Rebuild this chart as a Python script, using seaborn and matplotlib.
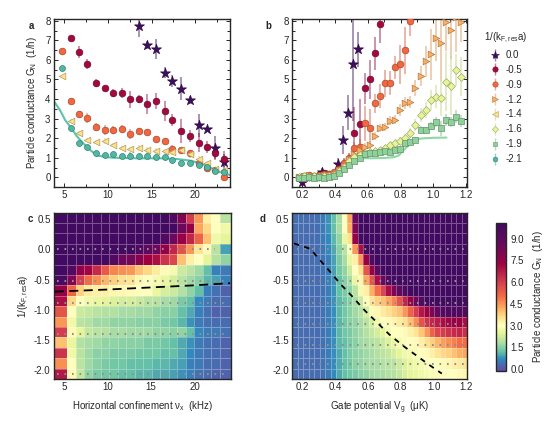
import numpy as np
import seaborn as sns
import matplotlib.pyplot as plt
import matplotlib.colors as mcolors
from matplotlib.lines import Line2D
from matplotlib.ticker import MultipleLocator, FormatStrFormatter

sns.set_style('ticks')
plt.rcParams['font.family'] = ['Liberation Sans', 'DejaVu Sans']
plt.rcParams['mathtext.default'] = 'regular'
FS = 7
plt.rcParams['font.size'] = FS

# ---------------- panel a data (x: horizontal confinement, kHz) ----------------
A_X = [4.7, 5.7, 6.7, 7.6, 8.6, 9.6, 10.6, 11.6, 12.5, 13.5,
       14.5, 15.5, 16.5, 17.4, 18.4, 19.4, 20.4, 21.4, 22.3, 23.3]
A_STAR_Y = [7.75, 6.78, 6.57, 5.35, 4.92, 4.53, 3.97, 2.66, 2.49, 1.52, 0.78]      # from index 9
A_STAR_E = [0.6, 0.2, 0.5, 0.3, 0.3, 0.6, 0.2, 0.6, 0.1, 0.6, 0.4]
A_RED_Y = [7.13, 6.42, 5.79, 4.8, 4.54, 4.3, 4.32, 3.98, 4.0, 3.76, 3.91, 3.4, 2.93,
           2.37, 2.11, 1.77, 1.53, 1.26, 0.92]                                     # from index 1
A_RED_E = [0.1, 0.3, 0.25, 0.2, 0.15, 0.2, 0.25, 0.45, 0.2, 0.5, 0.4, 0.5, 0.3, 0.6,
           0.3, 0.5, 0.3, 0.4, 0.4]
A_ORA_Y = [6.47, 3.9, 3.22, 3.05, 2.59, 2.43, 2.42, 2.49, 2.21, 2.38, 2.3, 1.96, 1.85,
           1.47, 1.41, 1.22, 0.71, 0.48, 0.36, 0.03]
A_ORA_E = [0.1, 0.1, 0.15, 0.25, 0.2, 0.25, 0.2, 0.2, 0.25, 0.15, 0.15, 0.1, 0.1, 0.2,
           0.1, 0.15, 0.15, 0.1, 0.1, 0.1]
A_TRI_Y = [5.18, 2.88, 2.24, 1.9, 1.82, 1.85, 1.64, 1.49, 1.45, 1.5, 1.4, 1.36, 1.32,
           1.3, 1.4, 1.2, 0.95, 0.74, 0.44, 0.37]
A_TRI_E = [0.05, 0.1, 0.15, 0.1, 0.1, 0.15, 0.1, 0.1, 0.1, 0.15, 0.15, 0.15, 0.15,
           0.15, 0.1, 0.2, 0.15, 0.1, 0.1, 0.1]
A_TEAL_Y = [5.57, 2.53, 1.74, 1.57, 1.26, 1.14, 1.19, 1.09, 1.09, 1.07, 1.11, 1.06,
            1.06, 0.89, 0.71, 0.75, 0.61, 0.54, 0.31, 0.29]
A_TEAL_E = [0.05, 0.08, 0.1, 0.1, 0.08, 0.08, 0.1, 0.1, 0.2, 0.1, 0.15, 0.1, 0.1, 0.15,
            0.1, 0.1, 0.1, 0.15, 0.15, 0.1]
A_THEORY_X = [3.9, 4.5, 5.1, 5.7, 6.4, 7.2, 8.0, 8.7, 9.7, 10.6, 13.4, 16.0, 18.0,
              19.5, 20.5, 21.4, 22.6, 24.1]
A_THEORY_Y = [3.82, 3.42, 2.91, 2.57, 2.11, 1.72, 1.38, 1.12, 1.04, 1.0, 0.97, 0.97,
              0.93, 0.85, 0.72, 0.58, 0.3, 0.1]

# ---------------- panel b data (x: gate potential, uK) ----------------
B_X = [0.178, 0.209, 0.24, 0.271, 0.302, 0.333, 0.364, 0.395, 0.426, 0.457, 0.488,
       0.519, 0.55, 0.581, 0.612, 0.643, 0.674, 0.705, 0.736, 0.767, 0.798, 0.829,
       0.86, 0.891, 0.922, 0.953, 0.984, 1.015, 1.046, 1.077, 1.108, 1.139, 1.17]
B_STAR_X = [0.2, 0.32, 0.42, 0.448, 0.478, 0.512, 0.543]
B_STAR_Y = [-0.22, 0.28, 0.67, 1.9, 3.3, 5.77, 6.55]
B_STAR_E = [0.15, 0.2, 0.3, 0.7, 0.9, 2.9, 0.9]
B_RED_Y = [-0.05, -0.1, 0.0, 0.05, 0.1, 0.2, 0.15, 0.2, 0.5, 0.7, 0.93, 2.27, 2.72,
           4.54, 5.0, 6.33, 7.85]
B_RED_E = [0.1, 0.15, 0.1, 0.1, 0.1, 0.15, 0.1, 0.15, 0.2, 0.3, 0.3, 1.3, 1.3, 0.8,
           1.0, 0.85, 1.0]
B_ORA_Y = [0.0, 0.05, 0.1, 0.05, 0.1, 0.15, 0.15, 0.25, 0.45, 0.75, 0.97, 1.51, 1.56,
           2.76, 2.5, 3.78, 4.15, 4.8, 4.83, 5.62, 5.77, 6.5, 8.0]
B_ORA_E = [0.1, 0.1, 0.1, 0.1, 0.1, 0.1, 0.1, 0.1, 0.15, 0.2, 0.2, 0.3, 0.4, 0.9, 1.0,
           0.5, 0.6, 0.7, 0.6, 0.6, 1.0, 1.2, 0.8]
B_TRI_Y = [0.0, 0.05, 0.1, 0.05, 0.05, 0.1, 0.1, 0.15, 0.35, 0.6, 0.95, 1.2, 1.4, 1.56,
           1.65, 2.1, 2.5, 2.55, 2.9, 2.95, 3.43, 3.78, 3.83, 4.57, 5.17, 5.92, 6.28,
           7.13, 6.84, 7.95, 7.55, 8.2, 7.92]
B_TRI_E = [0.1, 0.1, 0.1, 0.1, 0.1, 0.1, 0.1, 0.1, 0.1, 0.15, 0.15, 0.15, 0.15, 0.2,
           0.2, 0.2, 0.2, 0.2, 0.25, 0.25, 0.3, 0.3, 0.3, 0.4, 0.5, 0.8, 1.3, 1.2, 1.9,
           1.5, 1.5, 1.8, 1.0]
B_DIA_Y = [0.0, 0.05, 0.0, 0.05, 0.0, 0.05, 0.05, 0.12, 0.3, 0.55, 0.82, 1.05, 1.15,
           1.25, 1.3, 1.35, 1.4, 1.51, 1.65, 1.77, 1.85, 2.02, 2.25, 2.67, 3.18, 3.44,
           3.95, 4.12, 4.03, 4.88, 4.68, 5.48, 5.14]
B_DIA_E = [0.1, 0.1, 0.1, 0.1, 0.1, 0.1, 0.1, 0.1, 0.1, 0.1, 0.1, 0.1, 0.1, 0.1, 0.1,
           0.1, 0.15, 0.15, 0.15, 0.15, 0.2, 0.2, 0.25, 0.3, 0.35, 0.4, 0.5, 0.6, 0.9,
           1.5, 1.5, 0.8, 1.0]
B_SQ_Y = [-0.05, -0.02, 0.0, -0.02, 0.0, -0.02, 0.0, 0.05, 0.2, 0.4, 0.62, 0.85, 0.98,
          1.2, 1.25, 1.25, 1.31, 1.34, 1.31, 1.39, 1.45, 1.73, 1.79, 1.9, 2.42, 2.42,
          2.64, 2.84, 2.5, 2.93, 2.81, 3.1, 2.87]
B_SQ_E = [0.08, 0.08, 0.08, 0.08, 0.08, 0.08, 0.08, 0.08, 0.08, 0.08, 0.08, 0.08, 0.08,
          0.08, 0.08, 0.08, 0.1, 0.1, 0.1, 0.1, 0.1, 0.1, 0.12, 0.15, 0.2, 0.15, 0.2,
          0.25, 0.4, 0.3, 0.25, 0.35, 0.3]
B_THEORY_X = [0.30, 0.36, 0.40, 0.44, 0.47, 0.50, 0.55, 0.62, 0.70, 0.76, 0.79, 0.82,
              0.85, 0.88, 0.92, 1.0, 1.08]
B_THEORY_Y = [0.0, 0.05, 0.2, 0.5, 0.8, 0.95, 0.98, 0.97, 0.99, 1.03, 1.12, 1.4, 1.65,
              1.85, 1.98, 2.02, 2.03]

# ---------------- panel c heatmap (rows top -> bottom, 20 columns) ----------------
C_XEDGES = [3.8, 5.3, 6.278, 7.256, 8.233, 9.211, 10.189, 11.167, 12.144, 13.122,
            14.1, 15.078, 16.056, 17.033, 18.011, 18.989, 19.967, 20.944, 21.922,
            22.9, 24.2]
C_ROWS = [
    [10.0] * 13 + [9.5, 8.0, 6.0, 4.5, 3.3, 3.0, 2.0],
    [10.0] * 14 + [8.5, 7.5, 4.3, 3.7, 3.0, 2.7],
    [10.0] * 12 + [9.5, 8.5, 7.5, 6.5, 5.2, 4.0, 2.7, 2.5],
    [10.0] * 9 + [9.5, 9.0, 8.5, 7.5, 6.5, 5.5, 4.5, 3.5, 3.1, 2.0, 0.9],
    [10.0] * 6 + [9.5, 8.5, 8.3, 7.8, 7.3, 7.0, 6.2, 5.8, 4.0, 3.3, 3.0, 2.5, 1.9, 1.6],
    [10.0, 9.5, 7.6, 7.2, 6.4, 5.4, 4.7, 4.6, 4.5, 4.0, 3.7, 3.4, 3.1, 2.8, 2.2, 2.0,
     1.7, 1.2, 0.6, 0.5],
    [9.8, 8.0, 6.0, 5.0, 4.6, 4.1, 3.8, 3.6, 3.5, 3.2, 3.0, 2.8, 2.6, 2.3, 2.0, 1.7,
     1.5, 1.1, 0.9, 0.6],
    [7.5, 5.2, 3.8, 3.4, 3.3, 3.3, 3.2, 3.2, 3.1, 3.0, 3.0, 2.6, 2.3, 2.2, 1.9, 1.6,
     1.2, 0.6, 0.4, 0.2],
    [7.0, 3.7, 3.0, 2.7, 2.6, 2.5, 2.4, 2.3, 2.3, 2.2, 2.0, 2.0, 1.8, 1.7, 1.4, 1.2,
     0.7, 0.5, 0.3, 0.3],
    [5.5, 3.0, 2.2, 2.1, 2.0, 1.9, 1.9, 1.8, 1.8, 1.7, 1.7, 1.6, 1.5, 1.5, 1.2, 1.0,
     0.6, 0.4, 0.2, 0.2],
    [4.5, 2.7, 2.0, 1.9, 1.7, 1.7, 1.6, 1.6, 1.6, 1.5, 1.5, 1.5, 1.4, 1.3, 1.1, 0.8,
     0.5, 0.4, 0.3, 0.3],
    [6.0, 3.1, 2.5, 2.1, 2.0, 1.9, 1.8, 1.8, 1.7, 1.7, 1.7, 1.6, 1.6, 1.5, 1.6, 1.2,
     0.7, 0.5, 0.5, 0.4],
    [4.0, 2.6, 1.9, 1.8, 1.7, 1.6, 1.6, 1.5, 1.5, 1.5, 1.4, 1.4, 1.3, 1.2, 1.0, 0.8,
     0.5, 0.4, 0.3, 0.2],
    [6.2, 2.7, 2.0, 1.7, 1.5, 1.5, 1.4, 1.4, 1.4, 1.3, 1.3, 1.3, 1.2, 1.2, 1.0, 0.7,
     0.5, 0.4, 0.3, 0.2],
    [4.6, 3.0, 2.0, 1.7, 1.5, 1.4, 1.3, 1.3, 1.2, 1.2, 1.2, 1.1, 1.1, 1.0, 0.9, 0.6,
     0.5, 0.3, 0.3, 0.2],
    [6.8, 3.1, 2.1, 1.6, 1.4, 1.3, 1.3, 1.2, 1.2, 1.1, 1.1, 1.0, 1.0, 0.9, 0.8, 0.6,
     0.4, 0.3, 0.2, 0.2],
]
C_DOTTED = [0.0, -0.53, -0.89, -1.4, -2.07]
C_DASH_X = [3.9, 10.0, 15.0, 20.0, 24.1]
C_DASH_Y = [-0.70, -0.665, -0.63, -0.595, -0.56]

# ---------------- panel d heatmap (rows top -> bottom, 32 columns) ----------------
D_ROWS = [
    [0.35, 0.35, 0.3, 0.3, 0.35, 0.5, 0.8, 1.2, 1.8, 3.0, 4.3, 8.5] + [10.0] * 20,
    [0.35, 0.35, 0.3, 0.3, 0.35, 0.5, 0.8, 1.2, 1.8, 3.0, 4.2, 8.0] + [10.0] * 20,
    [0.3, 0.3, 0.3, 0.3, 0.35, 0.5, 0.7, 1.1, 1.6, 2.6, 3.6, 7.5] + [10.0] * 20,
    [0.3, 0.3, 0.3, 0.3, 0.35, 0.45, 0.7, 1.0, 1.5, 2.0, 3.0, 4.5, 7.0] + [10.0] * 19,
    [0.3, 0.3, 0.3, 0.3, 0.35, 0.45, 0.6, 0.9, 1.4, 1.8, 2.6, 3.3, 4.5, 7.5, 9.5]
    + [10.0] * 17,
    [0.3, 0.3, 0.3, 0.3, 0.3, 0.4, 0.6, 0.9, 1.3, 1.6, 2.2, 3.0, 3.6, 5.5, 7.5, 9.0]
    + [10.0] * 16,
    [0.3, 0.3, 0.3, 0.3, 0.3, 0.4, 0.6, 0.8, 1.2, 1.5, 1.8, 2.6, 3.2, 4.3, 5.5, 7.0,
     8.5, 9.5] + [10.0] * 14,
    [0.3, 0.3, 0.3, 0.3, 0.3, 0.4, 0.55, 0.8, 1.2, 1.4, 1.6, 2.0, 2.8, 3.3, 4.2, 5.0,
     5.8, 7.0, 8.0, 9.0, 9.5] + [10.0] * 11,
    [0.3, 0.3, 0.3, 0.3, 0.3, 0.4, 0.55, 0.8, 1.1, 1.3, 1.5, 1.8, 2.2, 3.0, 3.5, 3.8,
     4.0, 4.3, 4.7, 5.5, 6.5, 7.5, 8.5, 9.3] + [10.0] * 8,
    [0.3, 0.3, 0.3, 0.3, 0.3, 0.4, 0.55, 0.75, 1.1, 1.3, 1.5, 1.7, 1.9, 2.3, 2.9, 3.2,
     3.4, 3.6, 3.8, 4.0, 4.5, 5.2, 6.0, 6.8, 7.3, 8.0, 8.8, 9.3, 9.5, 9.6, 9.5, 9.4],
    [0.3, 0.3, 0.3, 0.3, 0.3, 0.4, 0.55, 0.75, 1.1, 1.3, 1.5, 1.6, 1.8, 2.0, 2.3, 2.7,
     3.0, 3.1, 3.2, 3.4, 3.6, 4.0, 4.6, 5.5, 6.2, 6.5, 6.7, 7.0, 7.2, 7.5, 7.3, 7.0],
    [0.3, 0.3, 0.3, 0.3, 0.3, 0.4, 0.55, 0.75, 1.1, 1.3, 1.4, 1.6, 1.7, 1.9, 2.1, 2.3,
     2.5, 2.8, 3.0, 3.0, 3.1, 3.3, 3.5, 3.9, 4.5, 5.2, 5.8, 6.0, 6.2, 6.4, 6.5, 6.3],
    [0.3, 0.3, 0.3, 0.3, 0.3, 0.4, 0.55, 0.75, 1.1, 1.2, 1.4, 1.5, 1.7, 1.8, 1.9, 2.0,
     2.2, 2.4, 2.6, 2.8, 2.9, 3.0, 3.1, 3.3, 3.6, 3.8, 4.1, 4.4, 4.6, 4.8, 5.0, 5.0],
    [0.3, 0.3, 0.3, 0.3, 0.3, 0.4, 0.55, 0.75, 1.0, 1.2, 1.4, 1.5, 1.6, 1.7, 1.8, 1.9,
     2.0, 2.1, 2.3, 2.5, 2.7, 2.8, 2.9, 3.0, 3.1, 3.3, 3.5, 3.7, 3.8, 4.0, 4.2, 4.3],
    [0.3, 0.3, 0.3, 0.3, 0.3, 0.4, 0.55, 0.7, 1.0, 1.2, 1.3, 1.5, 1.6, 1.7, 1.8, 1.8,
     1.9, 2.0, 2.0, 2.2, 2.4, 2.6, 2.7, 2.8, 2.9, 3.0, 3.0, 3.1, 3.2, 3.3, 3.4, 3.5],
    [0.3, 0.3, 0.3, 0.3, 0.3, 0.4, 0.5, 0.7, 1.0, 1.2, 1.3, 1.4, 1.5, 1.6, 1.7, 1.8,
     1.8, 1.9, 1.9, 2.1, 2.3, 2.5, 2.6, 2.7, 2.8, 2.9, 2.9, 3.0, 3.0, 3.0, 3.1, 3.2],
]
D_DOTTED = [0.0, -0.52, -0.89, -1.24, -1.58, -1.9]
D_DASH_X = [0.15, 0.25, 0.30, 0.37, 0.435, 0.505, 0.58, 0.655, 0.73, 0.81, 0.89, 0.97, 1.05]
D_DASH_Y = [0.10, 0.01, -0.15, -0.37, -0.58, -0.78, -1.01, -1.21, -1.41, -1.59, -1.75,
            -1.91, -2.06]

LEGEND_LABELS = ['0.0', '-0.5', '-0.9', '-1.2', '-1.4', '-1.6', '-1.9', '-2.1']
COLORS = ['#3f0d5e', '#a3093f', '#f26640', '#fdae61', '#fee08b', '#e6f598', '#8fd19b', '#4fb8a3']
MARKERS = ['*', 'o', 'o', '>', '<', 'D', 's', 'o']
MSIZES = [7.5, 4.8, 4.8, 4.8, 4.8, 4.0, 4.0, 4.3]

CMAP = mcolors.LinearSegmentedColormap.from_list('spec_purple', [
    (0.0, '#5e4fa2'), (0.078, '#3288bd'), (0.127, '#66c2a5'), (0.186, '#abdda4'),
    (0.255, '#e6f598'), (0.304, '#ffffbf'), (0.363, '#fee08b'), (0.422, '#fdae61'),
    (0.5, '#f46d43'), (0.598, '#d53e4f'), (0.725, '#9e0142'), (0.853, '#680a5e'),
    (1.0, '#400a60')])
VMIN, VMAX = -0.1, 10.1


def darker(c, f=0.7):
    r, g, b = mcolors.to_rgb(c)
    return (r * f, g * f, b * f)


def draw_series(ax, x, y, e, i):
    c = COLORS[i]
    ax.errorbar(x, y, yerr=e, fmt='none', ecolor=darker(c, 0.85), alpha=0.55,
                elinewidth=1.1, capsize=0, zorder=2 + i * 0.1)
    sns.scatterplot(x=x, y=y, ax=ax, marker=MARKERS[i], color=c, s=MSIZES[i] ** 2,
                    edgecolor=darker(c, 0.7), linewidth=0.5, zorder=3 + i * 0.1, legend=False)


def style_axes(ax, xmaj, xmin_, ymaj, ymin_):
    ax.xaxis.set_major_locator(MultipleLocator(xmaj))
    ax.xaxis.set_minor_locator(MultipleLocator(xmin_))
    ax.yaxis.set_major_locator(MultipleLocator(ymaj))
    ax.yaxis.set_minor_locator(MultipleLocator(ymin_))
    ax.tick_params(which='both', direction='in', top=True, right=True, labelsize=FS,
                   width=0.7, pad=2.5)
    ax.tick_params(which='major', length=3)
    ax.tick_params(which='minor', length=2.5)
    for s in ax.spines.values():
        s.set_linewidth(1.0)
    ax.set_xlabel('')
    ax.set_ylabel('')


fig = plt.figure(figsize=(5.5, 4.21), dpi=100)
W, H = 550.0, 421.0


def axes_px(l, t, r, b):
    return fig.add_axes([l / W, 1 - b / H, (r - l) / W, (b - t) / H])


ax_a = axes_px(54, 19, 230, 186.7)
ax_b = axes_px(292.3, 19, 467, 186.7)
ax_c = axes_px(54, 212.7, 231, 379)
ax_d = axes_px(292.3, 212.7, 467.3, 379)
cax = axes_px(496, 222.7, 506, 370.7)

# ---- panel a ----
sns.lineplot(x=A_THEORY_X, y=A_THEORY_Y, ax=ax_a, color='#5cc4ad', lw=1.5, zorder=1)
draw_series(ax_a, A_X[9:], A_STAR_Y, A_STAR_E, 0)
draw_series(ax_a, A_X[1:], A_RED_Y, A_RED_E, 1)
draw_series(ax_a, A_X, A_ORA_Y, A_ORA_E, 2)
draw_series(ax_a, A_X, A_TRI_Y, A_TRI_E, 4)
draw_series(ax_a, A_X, A_TEAL_Y, A_TEAL_E, 7)
ax_a.set_xlim(3.8, 24.0)
ax_a.set_ylim(-0.48, 8.09)
style_axes(ax_a, 5, 2.5, 1, 0.5)
ax_a.set_ylabel('Particle conductance G$_N$  (1/h)', fontsize=FS, labelpad=4)

# ---- panel b ----
sns.lineplot(x=B_THEORY_X, y=B_THEORY_Y, ax=ax_b, color='#8fd8a2', lw=1.5, zorder=1)
draw_series(ax_b, B_STAR_X, B_STAR_Y, B_STAR_E, 0)
draw_series(ax_b, B_X[:len(B_RED_Y)], B_RED_Y, B_RED_E, 1)
draw_series(ax_b, B_X[:len(B_ORA_Y)], B_ORA_Y, B_ORA_E, 2)
draw_series(ax_b, B_X, B_TRI_Y, B_TRI_E, 3)
draw_series(ax_b, B_X, B_DIA_Y, B_DIA_E, 5)
draw_series(ax_b, B_X, B_SQ_Y, B_SQ_E, 6)
ax_b.set_xlim(0.14, 1.205)
ax_b.set_ylim(-0.48, 8.09)
style_axes(ax_b, 0.2, 0.1, 1, 0.5)
ax_b.xaxis.set_major_formatter(FormatStrFormatter('%.1f'))

# ---- panel c ----
y_edges = np.linspace(0.61, -2.15, 17)
mesh = ax_c.pcolormesh(C_XEDGES, y_edges, np.array(C_ROWS), cmap=CMAP, vmin=VMIN,
                       vmax=VMAX, edgecolors=(1, 1, 1, 0.3), linewidth=0.6)
for yv in C_DOTTED:
    x_end = 22.3 if yv == 0.0 else 23.8
    sns.lineplot(x=[4.1, x_end], y=[yv, yv], ax=ax_c, color='#8f8f8f', lw=1.5,
                 linestyle=(0, (0.8, 2.8)))
sns.lineplot(x=C_DASH_X, y=C_DASH_Y, ax=ax_c, color='black', lw=1.3,
             linestyle=(0, (5, 3)))
ax_c.set_xlim(3.8, 24.2)
ax_c.set_ylim(-2.15, 0.61)
style_axes(ax_c, 5, 2.5, 0.5, 0.25)
ax_c.yaxis.set_major_formatter(FormatStrFormatter('%.1f'))
ax_c.set_xlabel('Horizontal confinement ν$_x$  (kHz)', fontsize=FS, labelpad=5)
ax_c.set_ylabel('1/(k$_{F,res}$a)', fontsize=FS, labelpad=2)

# ---- panel d ----
d_xedges = np.linspace(0.14, 1.205, 33)
ax_d.pcolormesh(d_xedges, y_edges, np.array(D_ROWS), cmap=CMAP, vmin=VMIN, vmax=VMAX,
                edgecolors=(1, 1, 1, 0.3), linewidth=0.6)
for yv in D_DOTTED:
    sns.lineplot(x=[0.167, 1.183], y=[yv, yv], ax=ax_d, color='#8f8f8f', lw=1.5,
                 linestyle=(0, (0.8, 2.8)))
sns.lineplot(x=D_DASH_X, y=D_DASH_Y, ax=ax_d, color='black', lw=1.3,
             linestyle=(0, (3, 3)))
ax_d.set_xlim(0.14, 1.205)
ax_d.set_ylim(-2.15, 0.61)
style_axes(ax_d, 0.2, 0.1, 0.5, 0.25)
ax_d.xaxis.set_major_formatter(FormatStrFormatter('%.1f'))
ax_d.yaxis.set_major_formatter(FormatStrFormatter('%.1f'))
ax_d.set_xlabel('Gate potential V$_g$  (μK)', fontsize=FS, labelpad=5)

# ---- colorbar ----
cb = fig.colorbar(mesh, cax=cax)
cb.set_ticks([0.0, 1.5, 3.0, 4.5, 6.0, 7.5, 9.0])
cb.ax.yaxis.set_major_formatter(FormatStrFormatter('%.1f'))
cb.ax.tick_params(direction='in', length=3, width=0.7, labelsize=FS, pad=3)
cb.outline.set_linewidth(1.0)
cb.set_label('Particle conductance G$_N$  (1/h)', fontsize=FS, labelpad=5)

# ---- legend ----
handles = []
for i in range(len(LEGEND_LABELS)):
    bar = Line2D([], [], marker='|', ms=8, mew=1.0, color=darker(COLORS[i], 0.85),
                 alpha=0.5, ls='none')
    mk = Line2D([], [], marker=MARKERS[i], ms=MSIZES[i] * 0.8, color=COLORS[i],
                mec=darker(COLORS[i], 0.7), mew=0.4, ls='none')
    handles.append((bar, mk))
fig.legend(handles, LEGEND_LABELS, title='1/(k$_{F,res}$a)', loc='upper left',
           bbox_to_anchor=(477 / W, 1 - 24 / H), frameon=False, fontsize=FS,
           title_fontsize=FS, handlelength=1.2, handletextpad=0.5, labelspacing=0.5,
           borderpad=0.2)

# ---- panel letters ----
for txt, px, py in [('a', 31, 26), ('b', 268, 26), ('c', 30, 219), ('d', 263, 219)]:
    fig.text(px / W, 1 - py / H, txt, fontsize=FS, fontweight='bold', va='center',
             ha='center')

fig.savefig('out.png', dpi=100)
